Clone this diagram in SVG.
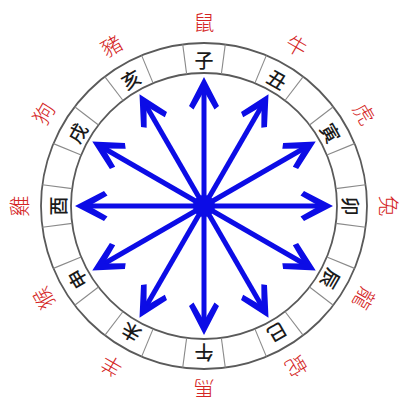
<svg xmlns="http://www.w3.org/2000/svg" width="413" height="418" viewBox="0 0 413 418">
<style>
.ring{fill:none;stroke:#5a5a5a;stroke-width:1.8}
.div{stroke:#8a8a8a;stroke-width:1.1}
.br{font-family:"Noto Sans CJK TC","Noto Sans CJK SC",sans-serif;font-size:19px;font-weight:500;fill:#1a1a1a;text-anchor:middle;dominant-baseline:central}
.an{font-family:"Noto Sans CJK TC","Noto Sans CJK SC",sans-serif;font-size:21px;font-weight:300;fill:#d42424;text-anchor:middle;dominant-baseline:central}
.arr{stroke:#0c0ce6;stroke-width:5;fill:none}
</style>
<defs>
<marker id="head" markerUnits="userSpaceOnUse" viewBox="-30 -20 44 40" markerWidth="44" markerHeight="40" refX="0" refY="0" orient="auto" overflow="visible">
<path d="M10,0 L-19,-15 L-22.5,-10.5 L-4,0 L-22.5,10.5 L-19,15 Z" fill="#0c0ce6"/>
</marker>
</defs>
<rect width="413" height="418" fill="#ffffff"/>
<g id="ring">
<circle class="ring" cx="204" cy="206" r="163"/>
<circle class="ring" cx="204" cy="206" r="133"/>
<g transform="translate(204 206)">
<line class="div" x1="0" y1="-133" x2="0" y2="-163" transform="rotate(7.5)"/>
<line class="div" x1="0" y1="-133" x2="0" y2="-163" transform="rotate(22.5)"/>
<line class="div" x1="0" y1="-133" x2="0" y2="-163" transform="rotate(37.5)"/>
<line class="div" x1="0" y1="-133" x2="0" y2="-163" transform="rotate(52.5)"/>
<line class="div" x1="0" y1="-133" x2="0" y2="-163" transform="rotate(67.5)"/>
<line class="div" x1="0" y1="-133" x2="0" y2="-163" transform="rotate(82.5)"/>
<line class="div" x1="0" y1="-133" x2="0" y2="-163" transform="rotate(97.5)"/>
<line class="div" x1="0" y1="-133" x2="0" y2="-163" transform="rotate(112.5)"/>
<line class="div" x1="0" y1="-133" x2="0" y2="-163" transform="rotate(127.5)"/>
<line class="div" x1="0" y1="-133" x2="0" y2="-163" transform="rotate(142.5)"/>
<line class="div" x1="0" y1="-133" x2="0" y2="-163" transform="rotate(157.5)"/>
<line class="div" x1="0" y1="-133" x2="0" y2="-163" transform="rotate(172.5)"/>
<line class="div" x1="0" y1="-133" x2="0" y2="-163" transform="rotate(187.5)"/>
<line class="div" x1="0" y1="-133" x2="0" y2="-163" transform="rotate(202.5)"/>
<line class="div" x1="0" y1="-133" x2="0" y2="-163" transform="rotate(217.5)"/>
<line class="div" x1="0" y1="-133" x2="0" y2="-163" transform="rotate(232.5)"/>
<line class="div" x1="0" y1="-133" x2="0" y2="-163" transform="rotate(247.5)"/>
<line class="div" x1="0" y1="-133" x2="0" y2="-163" transform="rotate(262.5)"/>
<line class="div" x1="0" y1="-133" x2="0" y2="-163" transform="rotate(277.5)"/>
<line class="div" x1="0" y1="-133" x2="0" y2="-163" transform="rotate(292.5)"/>
<line class="div" x1="0" y1="-133" x2="0" y2="-163" transform="rotate(307.5)"/>
<line class="div" x1="0" y1="-133" x2="0" y2="-163" transform="rotate(322.5)"/>
<line class="div" x1="0" y1="-133" x2="0" y2="-163" transform="rotate(337.5)"/>
<line class="div" x1="0" y1="-133" x2="0" y2="-163" transform="rotate(352.5)"/>
</g>
</g>
<g id="connectors">
<line class="arr" x1="204" y1="206" x2="204" y2="87" marker-end="url(#head)"/>
<line class="arr" x1="204" y1="206" x2="263.5" y2="102.94" marker-end="url(#head)"/>
<line class="arr" x1="204" y1="206" x2="307.06" y2="146.5" marker-end="url(#head)"/>
<line class="arr" x1="204" y1="206" x2="323" y2="206" marker-end="url(#head)"/>
<line class="arr" x1="204" y1="206" x2="307.06" y2="265.5" marker-end="url(#head)"/>
<line class="arr" x1="204" y1="206" x2="263.5" y2="309.06" marker-end="url(#head)"/>
<line class="arr" x1="204" y1="206" x2="204" y2="325" marker-end="url(#head)"/>
<line class="arr" x1="204" y1="206" x2="144.5" y2="309.06" marker-end="url(#head)"/>
<line class="arr" x1="204" y1="206" x2="100.94" y2="265.5" marker-end="url(#head)"/>
<line class="arr" x1="204" y1="206" x2="85" y2="206" marker-end="url(#head)"/>
<line class="arr" x1="204" y1="206" x2="100.94" y2="146.5" marker-end="url(#head)"/>
<line class="arr" x1="204" y1="206" x2="144.5" y2="102.94" marker-end="url(#head)"/>
<circle cx="204" cy="206" r="11" fill="#0c0ce6"/>
</g>
<g id="zi" transform="translate(204 206) rotate(0)"><text class="br" x="0" y="-147">子</text><text class="an" x="0" y="-185">鼠</text></g>
<g id="chou" transform="translate(204 206) rotate(30)"><text class="br" x="0" y="-147">丑</text><text class="an" x="0" y="-186">牛</text></g>
<g id="yin" transform="translate(204 206) rotate(60)"><text class="br" x="0" y="-147">寅</text><text class="an" x="0" y="-186">虎</text></g>
<g id="mao" transform="translate(204 206) rotate(90)"><text class="br" x="0" y="-147">卯</text><text class="an" x="0" y="-186">兔</text></g>
<g id="chen" transform="translate(204 206) rotate(120)"><text class="br" x="0" y="-147">辰</text><text class="an" x="0" y="-186">龍</text></g>
<g id="si" transform="translate(204 206) rotate(150)"><text class="br" x="0" y="-147">巳</text><text class="an" x="0" y="-186">蛇</text></g>
<g id="wu" transform="translate(204 206) rotate(180)"><text class="br" x="0" y="-147">午</text><text class="an" x="0" y="-184">馬</text></g>
<g id="wei" transform="translate(204 206) rotate(210)"><text class="br" x="0" y="-147">未</text><text class="an" x="0" y="-186">羊</text></g>
<g id="shen" transform="translate(204 206) rotate(240)"><text class="br" x="0" y="-147">申</text><text class="an" x="0" y="-186">猴</text></g>
<g id="you" transform="translate(204 206) rotate(270)"><text class="br" x="0" y="-147">酉</text><text class="an" x="0" y="-186">雞</text></g>
<g id="xu" transform="translate(204 206) rotate(300)"><text class="br" x="0" y="-147">戌</text><text class="an" x="0" y="-186">狗</text></g>
<g id="hai" transform="translate(204 206) rotate(330)"><text class="br" x="0" y="-147">亥</text><text class="an" x="0" y="-186">豬</text></g>
</svg>
